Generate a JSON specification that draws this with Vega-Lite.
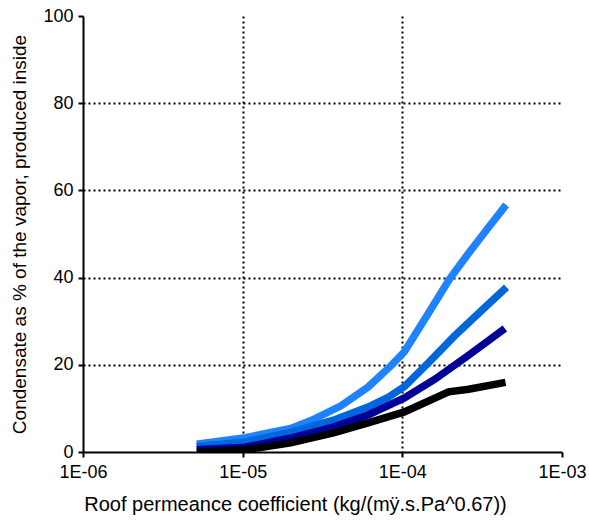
{
  "$schema": "https://vega.github.io/schema/vega-lite/v6.json",
  "autosize": {"type": "none"},
  "width": 479,
  "height": 436,
  "padding": {"left": 83, "top": 16, "right": 27, "bottom": 68},
  "background": "white",
  "config": {
    "view": {"stroke": null},
    "font": "Liberation Sans"
  },
  "data": {
    "values": [
      {"k": 5.44e-6, "c": 1.9, "s": "A"},
      {"k": 1.04e-5, "c": 3.3, "s": "A"},
      {"k": 2.0e-5, "c": 5.4, "s": "A"},
      {"k": 2.68e-5, "c": 7.2, "s": "A"},
      {"k": 4.13e-5, "c": 10.6, "s": "A"},
      {"k": 6.1e-5, "c": 14.9, "s": "A"},
      {"k": 8.5e-5, "c": 19.8, "s": "A"},
      {"k": 1.03e-4, "c": 23.0, "s": "A"},
      {"k": 1.46e-4, "c": 31.9, "s": "A"},
      {"k": 1.97e-4, "c": 39.6, "s": "A"},
      {"k": 2.6e-4, "c": 45.6, "s": "A"},
      {"k": 3.48e-4, "c": 51.6, "s": "A"},
      {"k": 4.32e-4, "c": 56.0, "s": "A"},
      {"k": 5.44e-6, "c": 1.3, "s": "B"},
      {"k": 1.04e-5, "c": 2.3, "s": "B"},
      {"k": 2.0e-5, "c": 4.5, "s": "B"},
      {"k": 3.7e-5, "c": 7.3, "s": "B"},
      {"k": 6.1e-5, "c": 10.3, "s": "B"},
      {"k": 8.2e-5, "c": 12.6, "s": "B"},
      {"k": 1.03e-4, "c": 15.0, "s": "B"},
      {"k": 1.46e-4, "c": 20.5, "s": "B"},
      {"k": 2.12e-4, "c": 26.6, "s": "B"},
      {"k": 3.1e-4, "c": 32.3, "s": "B"},
      {"k": 4.32e-4, "c": 37.2, "s": "B"},
      {"k": 5.44e-6, "c": 0.6, "s": "C"},
      {"k": 1.04e-5, "c": 1.1, "s": "C"},
      {"k": 2.0e-5, "c": 3.2, "s": "C"},
      {"k": 3.7e-5, "c": 5.7, "s": "C"},
      {"k": 6.1e-5, "c": 8.5, "s": "C"},
      {"k": 1.03e-4, "c": 12.4, "s": "C"},
      {"k": 1.6e-4, "c": 16.7, "s": "C"},
      {"k": 2.6e-4, "c": 22.2, "s": "C"},
      {"k": 4.2e-4, "c": 27.8, "s": "C"},
      {"k": 5.44e-6, "c": 0.0, "s": "D"},
      {"k": 1.04e-5, "c": 0.5, "s": "D"},
      {"k": 2.0e-5, "c": 2.1, "s": "D"},
      {"k": 3.7e-5, "c": 4.4, "s": "D"},
      {"k": 6.1e-5, "c": 6.7, "s": "D"},
      {"k": 1.03e-4, "c": 9.2, "s": "D"},
      {"k": 1.95e-4, "c": 13.8, "s": "D"},
      {"k": 2.6e-4, "c": 14.4, "s": "D"},
      {"k": 4.2e-4, "c": 15.8, "s": "D"}
    ]
  },
  "mark": {"type": "line", "strokeWidth": 7.5, "strokeCap": "square", "strokeJoin": "miter", "clip": true},
  "encoding": {
    "x": {
      "field": "k",
      "type": "quantitative",
      "scale": {"type": "log", "domain": [1e-6, 1e-3], "nice": false},
      "axis": {
        "values": [1e-6, 1e-5, 1e-4, 1e-3],
        "labelExpr": "datum.value < 5e-6 ? '1E-06' : datum.value < 5e-5 ? '1E-05' : datum.value < 5e-4 ? '1E-04' : '1E-03'",
        "title": "Roof permeance coefficient (kg/(mÿ.s.Pa^0.67))",
        "titleFont": "Liberation Sans",
        "titleFontWeight": "normal",
        "titleFontSize": 20,
        "titleColor": "black",
        "titlePadding": 13,
        "titleX": 212,
        "labelFont": "Liberation Sans",
        "labelFontSize": 18,
        "labelColor": "black",
        "labelPadding": 6,
        "labelFlush": false,
        "tickSize": 5,
        "tickColor": "black",
        "tickWidth": 2,
        "domainColor": "black",
        "domainWidth": 2,
        "grid": true,
        "gridColor": "black",
        "gridWidth": 2,
        "gridDash": [2, 3],
        "gridOpacity": {"condition": {"test": "datum.value < 5e-6 || datum.value > 5e-4", "value": 0}, "value": 1}
      }
    },
    "y": {
      "field": "c",
      "type": "quantitative",
      "scale": {"domain": [0, 100], "nice": false},
      "axis": {
        "values": [0, 20, 40, 60, 80, 100],
        "title": "Condensate as % of the vapor, produced inside",
        "titleFont": "Liberation Sans",
        "titleFontWeight": "normal",
        "titleFontSize": 19,
        "titleColor": "black",
        "titlePadding": 13,
        "labelFont": "Liberation Sans",
        "labelFontSize": 18,
        "labelColor": "black",
        "labelPadding": 5,
        "labelFlush": false,
        "tickSize": 5,
        "tickColor": "black",
        "tickWidth": 2,
        "domainColor": "black",
        "domainWidth": 2,
        "grid": true,
        "gridColor": "black",
        "gridWidth": 2,
        "gridDash": [2, 3],
        "gridOpacity": {"condition": {"test": "datum.value == 0 || datum.value == 100", "value": 0}, "value": 1}
      }
    },
    "color": {
      "field": "s",
      "type": "nominal",
      "scale": {"domain": ["A", "B", "C", "D"], "range": ["#1f82ff", "#0066dd", "#000099", "#000000"]},
      "legend": null
    }
  }
}
